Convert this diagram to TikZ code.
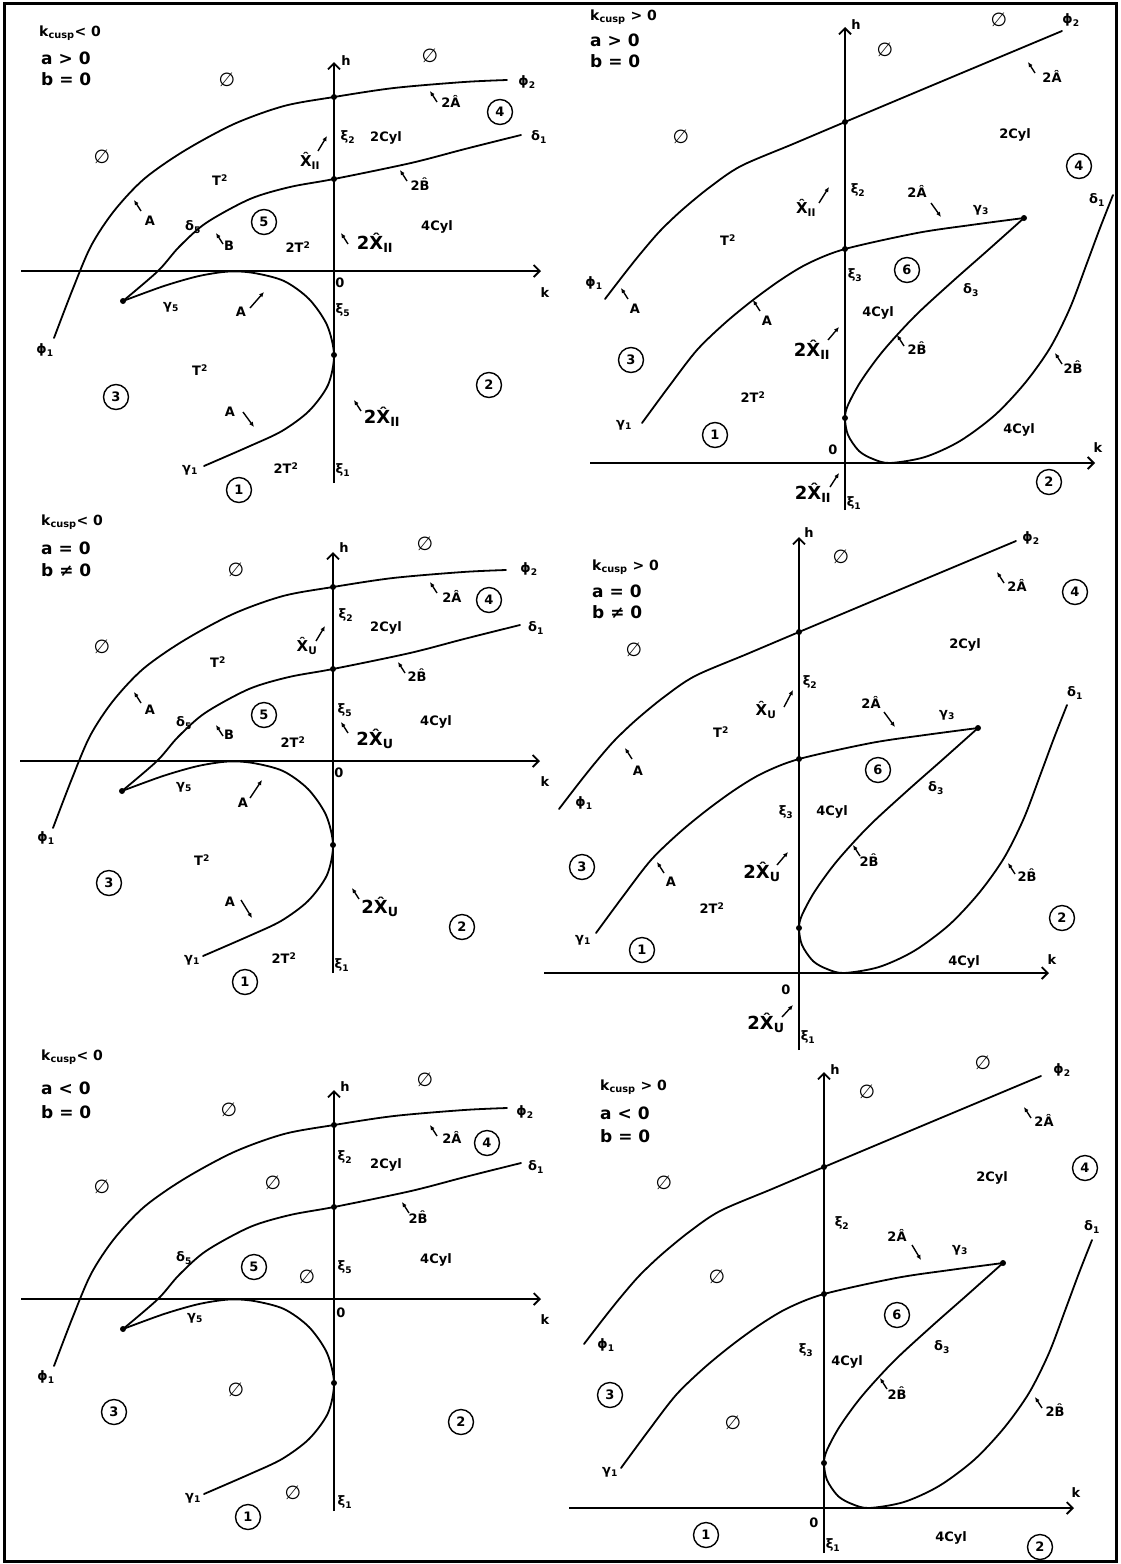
\documentclass[tikz,border=0pt]{standalone}
\usepackage{fontspec}
\setmainfont{DejaVu Sans}
\usetikzlibrary{arrows.meta}
\newcounter{lbl}
\tikzset{
 lab/.style={font=\fontsize{13}{15}\selectfont\bfseries, inner sep=0pt},
 hdr/.style={font=\fontsize{17}{19}\selectfont\bfseries, inner sep=0pt, anchor=west},
 hdrk/.style={font=\fontsize{14}{16}\selectfont\bfseries, inner sep=0pt, anchor=west},
 bigf/.style={font=\fontsize{18}{20}\selectfont\bfseries},
 midf/.style={font=\fontsize{15}{17}\selectfont\bfseries},
 esf/.style={font=\fontsize{19}{21}\selectfont},
 cnum/.style={circle, draw, line width=1.4pt, minimum size=25pt, inner sep=0pt, font=\fontsize{13}{15}\selectfont\bfseries},
 crv/.style={line width=1.8pt, line cap=round},
 axline/.style={line width=1.8pt},
 axarr/.style={-{Straight Barb[length=6pt,width=12pt]}},
 sarr/.style={line width=1.4pt, -{Latex[length=5pt,width=4.5pt]}},
 sarrb/.style={line width=1.4pt, {Latex[length=5pt,width=4.5pt]}-},
 pdot/.style={circle, fill, inner sep=0pt, minimum size=6pt},
}
\newcommand\LB[3][]{\stepcounter{lbl}\node[lab,#1] (n\arabic{lbl}) at (#2) {#3};}
\newcommand\CN[2]{\stepcounter{lbl}\node[cnum] (n\arabic{lbl}) at (#1) {#2};}
\newcommand\ES[1]{\LB[esf]{#1}{∅}}
\newcommand\DT[1]{\stepcounter{lbl}\node[pdot] (n\arabic{lbl}) at (#1) {};}
\newcommand\NWA[4][]{\draw[sarrb] (#2) -- ++(7,11); \LB[#1]{#3}{#4}}
\newcommand\LeftGeom{%
 \draw[axline,axarr] (0,212) -- (0,-209);
 \draw[axline,axarr] (-313,0) -- (207,0);
 \draw[crv] plot[smooth] coordinates {(-280,67) (-262,20) (-243,-25) (-220,-60) (-190,-92) (-150,-120) (-100,-147) (-50,-165) (0,-174) (60,-183) (130,-189) (173,-191)};
 \draw[crv] plot[smooth] coordinates {(-211,30) (-176,0) (-155,-24) (-128,-48) (-84,-72) (-44,-84) (0,-92) (77,-108) (131,-122) (187,-136)};
 \draw[crv] plot[smooth] coordinates {(-211,30) (-170,15) (-135,5) (-105,0.5) (-80,2) (-50,10) (-25,28) (-7,54) (0,84) (-6,114) (-25,140) (-52,160) (-84,175) (-130,195)};
 \DT{0,-174}\DT{0,-92}\DT{0,84}\DT{-211,30}}
\newcommand\RightGeom[1]{%
 \draw[axline,axarr] (0,#1) -- (0,-436);
 \draw[axline,axarr] (-255,0) -- (250,0);
 \draw[crv] plot[smooth] coordinates {(-240,-164) (-220,-190) (-204,-210) (-185,-232) (-163,-253) (-135,-276) (-104,-297) (-52,-319) (0,-341) (100,-383) (217,-432)};
 \draw[crv] plot[smooth] coordinates {(-203,-40) (-175,-78) (-148,-113) (-120,-140) (-92,-163) (-63,-184) (-36,-200) (0,-214) (72,-230) (126,-238) (179,-245)};
 \draw[crv] plot[smooth] coordinates {(179,-245) (142,-212) (108,-182) (70,-147) (38,-112) (16,-82) (3,-58) (0,-45) (3,-28) (14,-12) (28,-4) (45,0) (80,-6) (115,-22) (150,-48) (180,-80) (205,-115) (225,-155) (242,-200) (255,-235) (268,-268)};
 \DT{0,-341}\DT{0,-214}\DT{179,-245}\DT{0,-45}}
\begin{document}
\begin{tikzpicture}[x=1pt,y=-1pt]
\useasboundingbox (0,0) rectangle (1120,1564);
\draw[line width=3pt] (4,3) rectangle (1116,1561);
% ---------------- panel 1
\LB[hdrk]{39,33}{k\textsubscript{cusp}< 0}
\LB[hdr]{41,58}{a > 0}
\LB[hdr]{41,79}{b = 0}
\begin{scope}[shift={(334,271)}]
\LeftGeom
\LB{12,-210}{h}
\ES{96,-215}\ES{-107,-191}\ES{-232,-114}
\LB{193,-189}{ϕ\textsubscript{2}}
\LB{14,-134}{ξ\textsubscript{2}}
\LB{52,-133}{2Cyl}
\NWA{96,-180}{117,-170}{2Â}
\CN{166,-159}{4}
\LB{205,-134}{δ\textsubscript{1}}
\LB[midf]{-24,-110}{\^{X}\textsubscript{II}}
\draw[sarr] (-16,-120) -- (-7,-135);
\LB{-114,-91}{T\textsuperscript{2}}
\NWA{66,-101}{86,-87}{2\^{B}}
\NWA{-200,-71}{-184,-50}{A}
\LB{-141,-44}{δ\textsubscript{5}}
\CN{-70,-49}{5}
\NWA{-118,-38}{-105,-25}{B}
\LB{-36,-24}{2T\textsuperscript{2}}
\NWA[bigf]{7,-38}{41,-28}{2\^{X}\textsubscript{II}}
\LB{103,-44}{4Cyl}
\LB{6,12}{0}
\LB{211,22}{k}
\LB{-163,36}{γ\textsubscript{5}}
\LB{-93,41}{A}
\draw[sarr] (-84,37) -- (-70,21);
\LB{9,39}{ξ\textsubscript{5}}
\LB{-289,79}{ϕ\textsubscript{1}}
\LB{-134,99}{T\textsuperscript{2}}
\CN{-218,126}{3}
\CN{155,114}{2}
\LB{-104,141}{A}
\draw[sarr] (-91,141) -- (-80,156);
\NWA[bigf]{20,129}{48,146}{2\^{X}\textsubscript{II}}
\LB{-144,199}{γ\textsubscript{1}}
\LB{-48,197}{2T\textsuperscript{2}}
\LB{9,199}{ξ\textsubscript{1}}
\CN{-95,219}{1}
\end{scope}
% ---------------- panel 3
\LB[hdrk]{41,522}{k\textsubscript{cusp}< 0}
\LB[hdr]{41,548}{a = 0}
\LB[hdr]{41,570}{b ≠ 0}
\begin{scope}[shift={(333,761)}]
\LeftGeom
\LB{11,-213}{h}
\ES{92,-217}\ES{-97,-191}\ES{-231,-114}
\LB{196,-192}{ϕ\textsubscript{2}}
\NWA{97,-179}{119,-165}{2Â}
\CN{156,-161}{4}
\LB{13,-146}{ξ\textsubscript{2}}
\LB{53,-133}{2Cyl}
\LB{203,-133}{δ\textsubscript{1}}
\LB[midf]{-26,-115}{\^{X}\textsubscript{U}}
\draw[sarr] (-17,-120) -- (-8,-135);
\LB{-115,-99}{T\textsuperscript{2}}
\NWA{65,-99}{84,-86}{2\^{B}}
\NWA{-199,-69}{-183,-51}{A}
\LB{-149,-38}{δ\textsubscript{5}}
\CN{-69,-46}{5}
\LB{12,-51}{ξ\textsubscript{5}}
\NWA{-117,-36}{-104,-26}{B}
\LB{-40,-19}{2T\textsuperscript{2}}
\NWA[bigf]{8,-39}{42,-22}{2\^{X}\textsubscript{U}}
\LB{103,-39}{4Cyl}
\LB{6,12}{0}
\LB{212,21}{k}
\LB{-149,26}{γ\textsubscript{5}}
\LB{-90,42}{A}
\draw[sarr] (-83,37) -- (-71,19);
\LB{-287,77}{ϕ\textsubscript{1}}
\LB{-131,99}{T\textsuperscript{2}}
\CN{-224,122}{3}
\LB{-103,141}{A}
\draw[sarr] (-92,139) -- (-81,157);
\NWA[bigf]{19,127}{47,146}{2\^{X}\textsubscript{U}}
\CN{129,166}{2}
\LB{-141,199}{γ\textsubscript{1}}
\LB{-49,197}{2T\textsuperscript{2}}
\LB{9,204}{ξ\textsubscript{1}}
\CN{-88,221}{1}
\end{scope}
% ---------------- panel 5
\LB[hdrk]{41,1057}{k\textsubscript{cusp}< 0}
\LB[hdr]{41,1088}{a < 0}
\LB[hdr]{41,1112}{b = 0}
\begin{scope}[shift={(334,1299)}]
\LeftGeom
\LB{11,-212}{h}
\ES{91,-219}\ES{-105,-189}\ES{-232,-112}\ES{-61,-116}\ES{-27,-22}\ES{-98,91}\ES{-41,194}
\LB{191,-187}{ϕ\textsubscript{2}}
\NWA{96,-174}{118,-162}{2Â}
\CN{153,-156}{4}
\LB{11,-142}{ξ\textsubscript{2}}
\LB{52,-134}{2Cyl}
\LB{202,-132}{δ\textsubscript{1}}
\NWA{68,-97}{84,-82}{2\^{B}}
\LB{-150,-41}{δ\textsubscript{5}}
\CN{-80,-32}{5}
\LB{11,-32}{ξ\textsubscript{5}}
\LB{102,-39}{4Cyl}
\LB{7,14}{0}
\LB{211,21}{k}
\LB{-139,19}{γ\textsubscript{5}}
\LB{-288,78}{ϕ\textsubscript{1}}
\CN{-220,113}{3}
\CN{127,123}{2}
\LB{-141,199}{γ\textsubscript{1}}
\LB{11,203}{ξ\textsubscript{1}}
\CN{-86,218}{1}
\end{scope}
% ---------------- panel 2
\LB[hdrk]{590,17}{k\textsubscript{cusp} > 0}
\LB[hdr]{590,40}{a > 0}
\LB[hdr]{590,61}{b = 0}
\begin{scope}[shift={(845,463)}]
\RightGeom{47}
\LB{11,-438}{h}
\ES{154,-443}\ES{40,-413}\ES{-164,-326}
\LB{226,-443}{ϕ\textsubscript{2}}
\NWA{183,-401}{207,-387}{2Â}
\LB{170,-328}{2Cyl}
\CN{234,-297}{4}
\LB{252,-263}{δ\textsubscript{1}}
\LB{13,-273}{ξ\textsubscript{2}}
\LB[midf]{-39,-255}{\^{X}\textsubscript{II}}
\draw[sarr] (-26,-260) -- (-16,-276);
\LB{72,-272}{2Â}
\draw[sarr] (86,-260) -- (96,-246);
\LB{136,-253}{γ\textsubscript{3}}
\LB{-117,-223}{T\textsuperscript{2}}
\CN{62,-193}{6}
\LB{10,-188}{ξ\textsubscript{3}}
\LB{-251,-180}{ϕ\textsubscript{1}}
\NWA{-224,-175}{-210,-154}{A}
\NWA{-92,-163}{-78,-142}{A}
\LB{33,-150}{4Cyl}
\LB{126,-173}{δ\textsubscript{3}}
\LB[bigf]{-33,-113}{2\^{X}\textsubscript{II}}
\draw[sarr] (-17,-123) -- (-6,-136);
\NWA{52,-128}{72,-115}{2\^{B}}
\CN{-214,-103}{3}
\NWA{210,-110}{228,-96}{2\^{B}}
\LB{-92,-66}{2T\textsuperscript{2}}
\LB{-221,-38}{γ\textsubscript{1}}
\CN{-130,-28}{1}
\LB{174,-33}{4Cyl}
\LB{-12,-13}{0}
\LB{253,-15}{k}
\CN{204,19}{2}
\LB[bigf]{-32,30}{2\^{X}\textsubscript{II}}
\draw[sarr] (-15,24) -- (-6,10);
\LB{9,40}{ξ\textsubscript{1}}
\end{scope}
% ---------------- panel 4
\LB[hdrk]{592,567}{k\textsubscript{cusp} > 0}
\LB[hdr]{592,591}{a = 0}
\LB[hdr]{592,612}{b ≠ 0}
\begin{scope}[shift={(799,973)}]
\RightGeom{77}
\LB{10,-440}{h}
\ES{42,-416}\ES{-165,-323}
\LB{232,-435}{ϕ\textsubscript{2}}
\NWA{198,-401}{218,-388}{2Â}
\CN{276,-381}{4}
\LB{166,-328}{2Cyl}
\LB{11,-291}{ξ\textsubscript{2}}
\LB[midf]{-33,-263}{\^{X}\textsubscript{U}}
\draw[sarr] (-15,-266) -- (-6,-283);
\LB{72,-271}{2Â}
\draw[sarr] (85,-261) -- (96,-246);
\LB{148,-258}{γ\textsubscript{3}}
\LB{276,-280}{δ\textsubscript{1}}
\LB{-78,-241}{T\textsuperscript{2}}
\NWA{-174,-225}{-161,-202}{A}
\CN{79,-203}{6}
\LB{137,-185}{δ\textsubscript{3}}
\LB{-215,-170}{ϕ\textsubscript{1}}
\LB{-13,-161}{ξ\textsubscript{3}}
\LB{33,-161}{4Cyl}
\NWA{54,-128}{70,-113}{2\^{B}}
\CN{-217,-106}{3}
\NWA{-142,-111}{-128,-91}{A}
\LB[bigf]{-37,-101}{2\^{X}\textsubscript{U}}
\draw[sarr] (-22,-108) -- (-11,-121);
\NWA{209,-110}{228,-98}{2\^{B}}
\LB{-87,-65}{2T\textsuperscript{2}}
\CN{263,-55}{2}
\LB{-216,-33}{γ\textsubscript{1}}
\CN{-157,-23}{1}
\LB{165,-11}{4Cyl}
\LB{253,-13}{k}
\LB{-13,17}{0}
\LB[bigf]{-33,50}{2\^{X}\textsubscript{U}}
\draw[sarr] (-17,44) -- (-6,32);
\LB{9,64}{ξ\textsubscript{1}}
\end{scope}
% ---------------- panel 6
\LB[hdrk]{600,1087}{k\textsubscript{cusp} > 0}
\LB[hdr]{600,1113}{a < 0}
\LB[hdr]{600,1136}{b = 0}
\begin{scope}[shift={(824,1508)}]
\RightGeom{45}
\LB{11,-438}{h}
\ES{159,-445}\ES{43,-416}\ES{-160,-325}\ES{-107,-231}\ES{-91,-85}
\LB{238,-438}{ϕ\textsubscript{2}}
\NWA{200,-401}{220,-388}{2Â}
\CN{261,-340}{4}
\LB{168,-330}{2Cyl}
\LB{18,-285}{ξ\textsubscript{2}}
\LB{73,-273}{2Â}
\draw[sarr] (88,-263) -- (97,-248);
\LB{136,-258}{γ\textsubscript{3}}
\LB{268,-281}{δ\textsubscript{1}}
\CN{73,-193}{6}
\LB{-218,-163}{ϕ\textsubscript{1}}
\LB{-18,-158}{ξ\textsubscript{3}}
\LB{23,-146}{4Cyl}
\LB{118,-161}{δ\textsubscript{3}}
\NWA{56,-130}{73,-115}{2\^{B}}
\CN{-214,-113}{3}
\NWA{211,-111}{231,-98}{2\^{B}}
\LB{-214,-36}{γ\textsubscript{1}}
\LB{252,-15}{k}
\LB{-10,15}{0}
\CN{-118,27}{1}
\LB{9,37}{ξ\textsubscript{1}}
\LB{127,30}{4Cyl}
\CN{216,39}{2}
\end{scope}
\end{tikzpicture}
\end{document}
